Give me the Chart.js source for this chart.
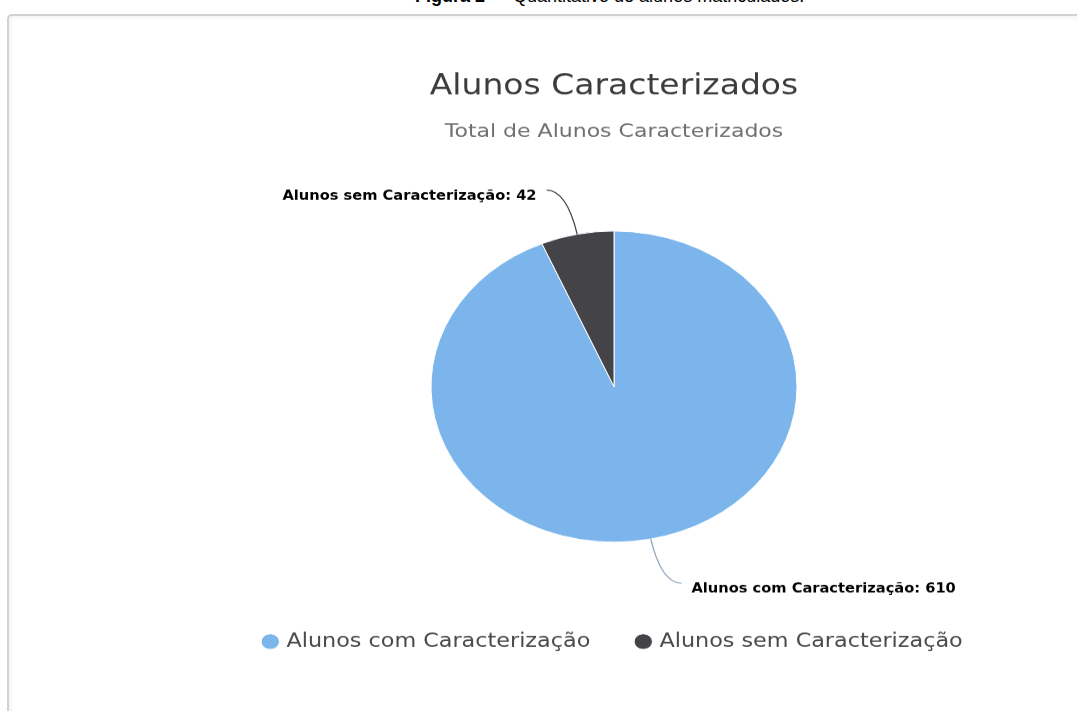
<!DOCTYPE html>
<html>
<head>
<meta charset="utf-8">
<script src="https://cdn.jsdelivr.net/npm/chart.js@4/dist/chart.umd.min.js"></script>
<style>
  html, body { margin: 0; padding: 0; background: #fff; width: 1077px; height: 711px; overflow: hidden; }
  #caption { position: absolute; left: 415px; top: -12px; font-family: 'Liberation Sans', Arial, sans-serif; font-size: 18px; line-height: 17px; color: #000; white-space: nowrap; }
  #frame { position: absolute; left: 7px; top: 14px; width: 1090px; height: 720px; border: 2px solid #d2d2d2; border-radius: 5px; box-shadow: inset 2px 2px 4px rgba(0,0,0,0.05); }
  #wrap { position: absolute; left: 0; top: 0; width: 1077px; height: 837px; transform: scaleY(0.85); transform-origin: 0 0; }
</style>
</head>
<body>
<div id="caption"><b>Figura 2</b> — Quantitativo de alunos matriculados.</div>
<div id="frame"></div>
<div id="wrap"><canvas id="c" width="1077" height="837"></canvas></div>
<script>
const categories = ['Alunos com Caracterização', 'Alunos sem Caracterização'];
const values = [610, 42];
const sliceColors = ['#7cb5ec', '#434348'];
const connectorColors = ['#93a6ba', '#434348'];
const titleText = 'Alunos Caracterizados';
const subtitleText = 'Total de Alunos Caracterizados';

const FONT = "'DejaVu Sans', 'Lucida Grande', sans-serif";
const LABEL_FONT = "bold 16.3px 'DejaVu Sans Condensed', 'DejaVu Sans', sans-serif";
const DIST = 53, HOOK = 20, GAP = 10, TEXT_DY = 7;

const pieLabels = {
  id: 'pieLabels',
  afterDatasetsDraw(chart) {
    const ctx = chart.ctx;
    const meta = chart.getDatasetMeta(0);
    meta.data.forEach((arc, i) => {
      const p = arc.getProps(['x', 'y', 'startAngle', 'endAngle', 'outerRadius'], true);
      const mid = (p.startAngle + p.endAngle) / 2;
      const cos = Math.cos(mid), sin = Math.sin(mid);
      const ex = p.x + cos * p.outerRadius, ey = p.y + sin * p.outerRadius;
      const px = p.x + cos * (p.outerRadius + DIST), py = p.y + sin * (p.outerRadius + DIST);
      const side = cos < 0 ? -1 : 1;
      const qx = px + side * HOOK, qy = py;
      ctx.save();
      ctx.strokeStyle = connectorColors[i];
      ctx.lineWidth = 1.3;
      ctx.beginPath();
      ctx.moveTo(ex, ey);
      ctx.quadraticCurveTo(px, py, qx, qy);
      ctx.stroke();
      ctx.font = LABEL_FONT;
      ctx.fillStyle = '#000';
      ctx.textAlign = side < 0 ? 'right' : 'left';
      ctx.textBaseline = 'middle';
      ctx.fillText(categories[i] + ': ' + values[i], qx + side * GAP, qy + TEXT_DY);
      ctx.restore();
    });
  }
};

new Chart(document.getElementById('c'), {
  type: 'pie',
  data: {
    labels: categories,
    datasets: [{
      data: values,
      backgroundColor: sliceColors,
      borderColor: '#ffffff',
      borderWidth: 1,
      radius: 183
    }]
  },
  options: {
    responsive: false,
    devicePixelRatio: 1,
    animation: false,
    events: [],
    layout: { padding: { top: 0, left: 151, right: 0, bottom: 61 } },
    plugins: {
      title: {
        display: true,
        text: titleText,
        color: '#3c3c3c',
        font: { family: FONT, size: 33, weight: 'normal' },
        padding: { top: 83, bottom: 0 }
      },
      subtitle: {
        display: true,
        text: subtitleText,
        color: '#707070',
        font: { family: FONT, size: 22, weight: 'normal' },
        padding: { top: 19.2, bottom: 45.8 }
      },
      legend: {
        display: true,
        position: 'bottom',
        labels: {
          usePointStyle: true,
          pointStyle: 'circle',
          boxWidth: 10,
          boxHeight: 13,
          padding: 48,
          color: '#4a4a4a',
          font: { family: FONT, size: 22.3 }
        }
      },
      tooltip: { enabled: false }
    }
  },
  plugins: [pieLabels]
});
</script>
</body>
</html>
